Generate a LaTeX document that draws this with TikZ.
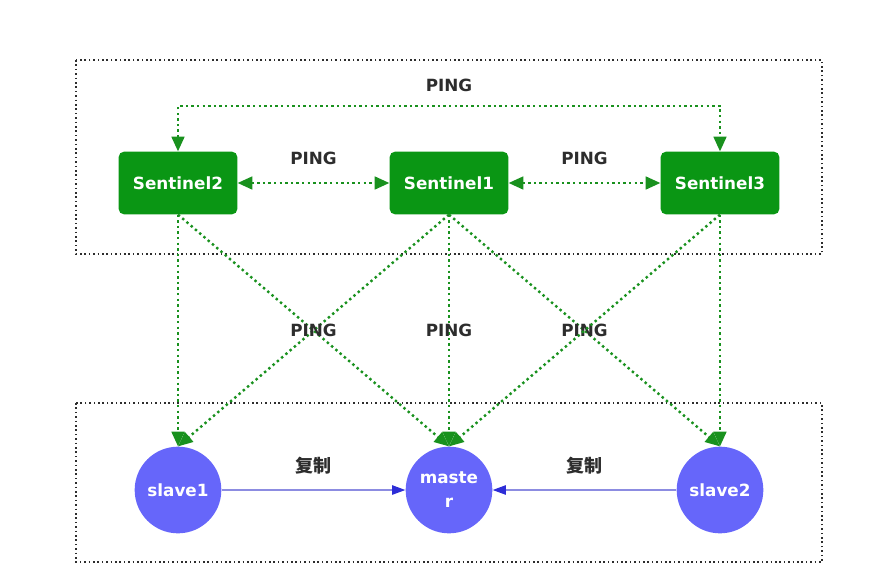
\documentclass[tikz,border=0pt]{standalone}
\usepackage{fontspec}
\setmainfont{DejaVu Sans}
\newfontfamily\cjk{Noto Sans CJK SC}
\usepackage{xcolor}
\definecolor{colorg}{RGB}{10,150,20}
\definecolor{colord}{RGB}{25,145,30}
\definecolor{colorb}{RGB}{102,102,250}
\definecolor{colorl}{RGB}{140,140,225}
\definecolor{colorh}{RGB}{45,45,215}
\definecolor{colorn}{RGB}{45,45,45}
\usepackage{tikz}
\usetikzlibrary{arrows.meta}
\tikzstyle{sentinel} = [fill=colorg, draw=none, rounded corners=4pt, minimum width=89pt, minimum height=47pt, text=white, font=\fontsize{12.6}{15}\selectfont\bfseries]
\tikzstyle{redis} = [circle, fill=colorb, draw=none, minimum size=65pt, inner sep=0pt, text=white, align=center, font=\fontsize{12.6}{18}\selectfont\bfseries]
\tikzstyle{group} = [draw=colorn, line width=1.2pt, dash pattern=on 1.2pt off 2.1pt]
\tikzstyle{ping} = [draw=colord, line width=1.8pt, dash pattern=on 1.8pt off 2.4pt, -{Triangle[length=11pt,width=9.5pt,color=colord]}]
\tikzstyle{pingboth} = [ping, {Triangle[length=11pt,width=9.5pt,color=colord]}-{Triangle[length=11pt,width=9.5pt,color=colord]}]
\tikzstyle{copy} = [draw=colorl, line width=1.2pt, -{Triangle[length=10pt,width=7pt,color=colorh]}]
\tikzstyle{lbl} = [text=colorn, inner sep=0pt, font=\fontsize{12.6}{15}\selectfont\bfseries]
\tikzstyle{lblc} = [text=colorn, inner sep=0pt, font=\fontsize{13.5}{16}\selectfont\cjk\bfseries]

\begin{document}
\begin{tikzpicture}[x=0.75pt, y=-0.75pt]
    \useasboundingbox (0,0) rectangle (892,564);
    \draw[group] (76,60) rectangle (822,254);
    \draw[group] (76,403) rectangle (822,562);

    \node[sentinel] (sen2) at (178,183) {Sentinel2};
    \node[sentinel] (sen1) at (449,183) {Sentinel1};
    \node[sentinel] (sen3) at (720,183) {Sentinel3};

    \node[redis] (slv1) at (178,490) {slave1};
    \node[redis] (mst) at (449,490) {maste\\r};
    \node[redis] (slv2) at (720,490) {slave2};

    \coordinate (ptop) at (449,106);
    \draw[pingboth] (sen2.north) |- (ptop) node[lbl, above=9.5pt] {PING} -| (sen3.north);
    \draw[pingboth] (sen2.east) -- node[lbl, above=12.5pt] {PING} (sen1.west);
    \draw[pingboth] (sen1.east) -- node[lbl, above=12.5pt] {PING} (sen3.west);

    \draw[ping] (sen2.south) -- (slv1.north);
    \draw[ping] (sen2.south) -- (mst.north);
    \draw[ping] (sen1.south) -- node[lbl] {PING} (slv1.north);
    \draw[ping] (sen1.south) -- node[lbl] {PING} (mst.north);
    \draw[ping] (sen1.south) -- node[lbl] {PING} (slv2.north);
    \draw[ping] (sen3.south) -- (mst.north);
    \draw[ping] (sen3.south) -- (slv2.north);

    \draw[copy] (slv1.east) -- node[lblc, above=11.5pt] {复制} (mst.west);
    \draw[copy] (slv2.west) -- node[lblc, above=11.5pt] {复制} (mst.east);
  \end{tikzpicture}
\end{document}
